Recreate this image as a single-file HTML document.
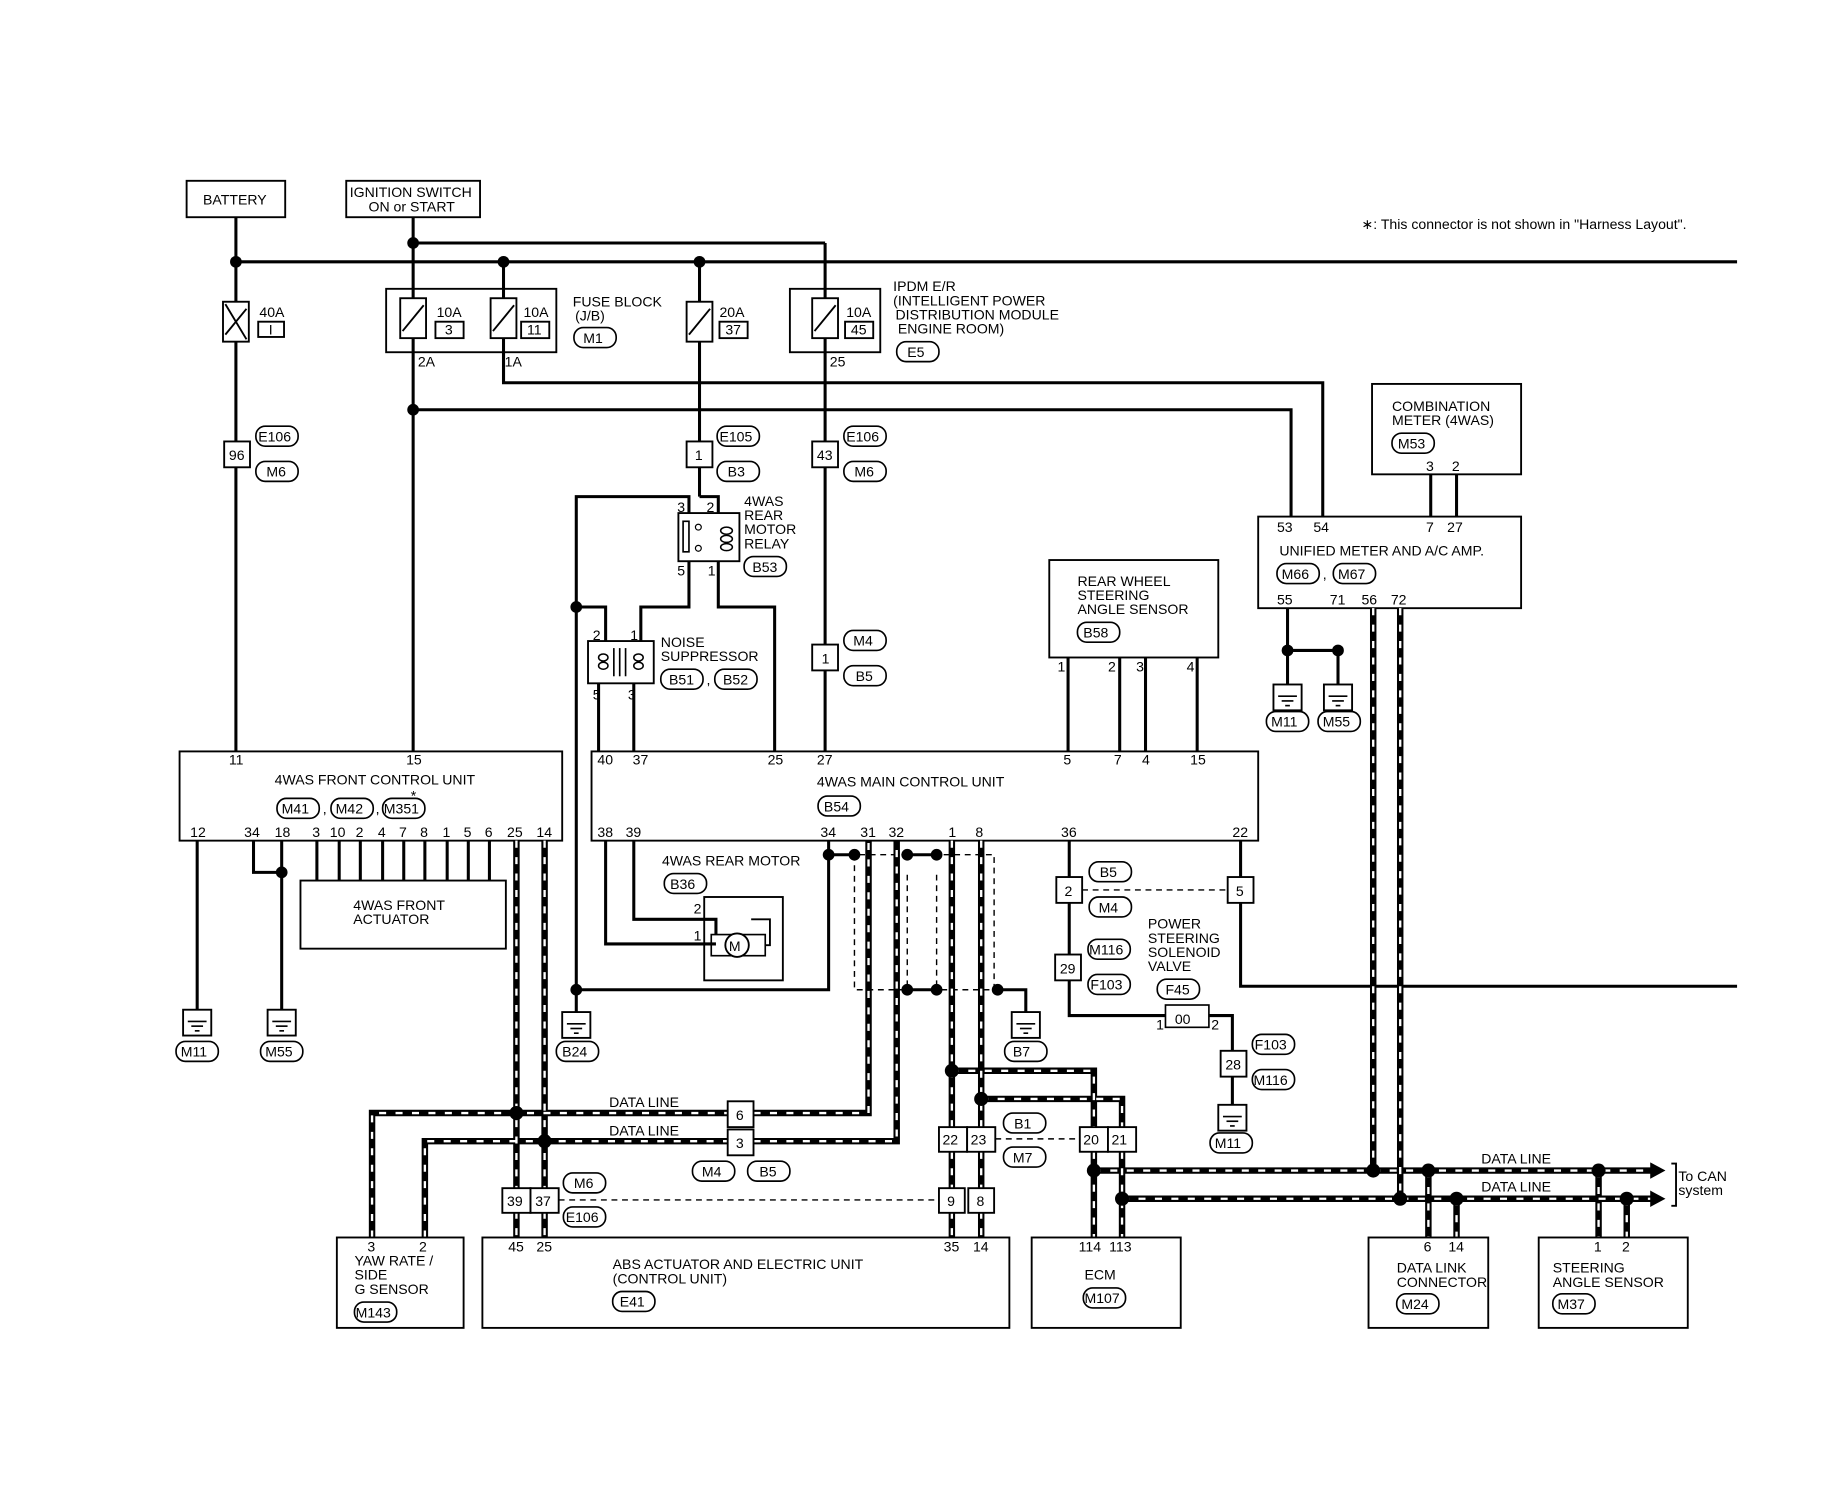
<!DOCTYPE html>
<html><head><meta charset="utf-8"><style>
html,body{margin:0;padding:0;background:#fff}
svg{display:block}
text{font-family:"Liberation Sans",sans-serif;font-size:12px;fill:#000}
.l{stroke:#000;stroke-width:2.6;fill:none}
.b{stroke:#000;stroke-width:1.6;fill:#fff}
.bt{stroke:#000;stroke-width:1.6;fill:none}
.T{stroke:#000;stroke-width:5.5;fill:none}
.W{stroke:#fff;stroke-width:2;fill:none;stroke-dasharray:6 8}
.dd{stroke:#000;stroke-width:1.2;fill:none;stroke-dasharray:5 4}
.o{stroke:#000;stroke-width:1.4;fill:#fff}
</style></head><body>
<svg width="1838" height="1504" viewBox="0 0 1566 1281" preserveAspectRatio="none" xmlns="http://www.w3.org/2000/svg">
<defs>
<g id="gnd"><rect x="-12" y="0" width="24" height="22" class="b"/><line x1="-8" y1="10" x2="8" y2="10" stroke="#000" stroke-width="1.4"/><line x1="-5" y1="14" x2="5" y2="14" stroke="#000" stroke-width="1.4"/><line x1="-2" y1="18" x2="2" y2="18" stroke="#000" stroke-width="1.4"/></g>
<g id="fuse"><rect x="-11" y="0" width="22" height="34" class="b"/><line x1="-9" y1="28" x2="9" y2="6" stroke="#000" stroke-width="1.6"/></g>
</defs>

<rect x="159" y="154" width="84" height="31" class="b"/><text x="173" y="174">BATTERY</text>
<rect x="295" y="154" width="114" height="31" class="b"/><text x="298" y="168">IGNITION SWITCH</text><text x="314" y="180">ON or START</text>
<text x="1160" y="195">∗: This connector is not shown in "Harness Layout".</text>

<line x1="201" y1="223" x2="1480" y2="223" class="l"/>
<line x1="352" y1="207" x2="703" y2="207" class="l"/>
<line x1="201" y1="185" x2="201" y2="640" class="l"/>
<line x1="352" y1="185" x2="352" y2="640" class="l"/>
<line x1="429" y1="223" x2="429" y2="326" class="l"/>
<polyline points="429,300 429,326 1127,326 1127,440" class="l"/>
<polyline points="352,349 1100,349 1100,440" class="l"/>
<line x1="596" y1="223" x2="596" y2="423" class="l"/>
<line x1="703" y1="207" x2="703" y2="640" class="l"/>
<circle cx="201" cy="223" r="5"/><circle cx="352" cy="207" r="5"/><circle cx="429" cy="223" r="5"/><circle cx="596" cy="223" r="5"/><circle cx="352" cy="349" r="5"/>

<use href="#fuse" x="201" y="257"/><line x1="192" y1="259" x2="210" y2="289" stroke="#000" stroke-width="1.6"/>
<text x="221" y="270">40A</text><rect x="220" y="274" width="22" height="13" class="b"/><text x="229" y="285">I</text>
<rect x="329" y="246" width="145" height="54" class="bt"/>
<use href="#fuse" x="352" y="254"/><use href="#fuse" x="429" y="254"/>
<text x="372" y="270">10A</text><rect x="371" y="274" width="24" height="14" class="b"/><text x="379" y="285">3</text>
<text x="446" y="270">10A</text><rect x="444" y="274" width="24" height="14" class="b"/><text x="449" y="285">11</text>
<text x="356" y="312">2A</text><text x="430" y="312">1A</text>
<text x="488" y="261">FUSE BLOCK</text><text x="490" y="273">(J/B)</text><rect x="489" y="279" width="36" height="17" rx="8" class="o"/><text x="497" y="292">M1</text>
<use href="#fuse" x="596" y="257"/>
<text x="613" y="270">20A</text><rect x="613" y="274" width="24" height="14" class="b"/><text x="618" y="285">37</text>
<rect x="673" y="246" width="77" height="54" class="bt"/><use href="#fuse" x="703" y="254"/>
<text x="721" y="270">10A</text><rect x="720" y="274" width="24" height="14" class="b"/><text x="725" y="285">45</text>
<text x="707" y="312">25</text>
<text x="761" y="248">IPDM E/R</text><text x="761" y="260">(INTELLIGENT POWER</text><text x="763" y="272">DISTRIBUTION MODULE</text><text x="765" y="284">ENGINE ROOM)</text>
<rect x="764" y="291" width="36" height="17" rx="8" class="o"/><text x="773" y="304">E5</text>

<rect x="191" y="376" width="22" height="22" class="b"/><text x="195" y="392">96</text>
<rect x="218" y="363" width="36" height="17" rx="8" class="o"/><text x="220" y="376">E106</text>
<rect x="218" y="393" width="36" height="17" rx="8" class="o"/><text x="227" y="406">M6</text>
<rect x="585" y="376" width="22" height="22" class="b"/><text x="592" y="392">1</text>
<rect x="611" y="363" width="36" height="17" rx="8" class="o"/><text x="613" y="376">E105</text>
<rect x="611" y="393" width="36" height="17" rx="8" class="o"/><text x="620" y="406">B3</text>
<rect x="692" y="376" width="22" height="22" class="b"/><text x="696" y="392">43</text>
<rect x="719" y="363" width="36" height="17" rx="8" class="o"/><text x="721" y="376">E106</text>
<rect x="719" y="393" width="36" height="17" rx="8" class="o"/><text x="728" y="406">M6</text>
<rect x="692" y="549" width="22" height="22" class="b"/><text x="700" y="565">1</text>
<rect x="719" y="537" width="36" height="17" rx="8" class="o"/><text x="727" y="550">M4</text>
<rect x="719" y="567" width="36" height="17" rx="8" class="o"/><text x="729" y="580">B5</text>

<polyline points="587,440 587,423 491,423 491,845" class="l"/>
<polyline points="596,423 612,423 612,440" class="l"/>
<rect x="578" y="437" width="52" height="41" class="b"/>
<rect x="582" y="444" width="5" height="26" fill="none" stroke="#000" stroke-width="1.4"/>
<circle cx="595" cy="449" r="2.5" fill="#fff" stroke="#000"/><circle cx="595" cy="467" r="2.5" fill="#fff" stroke="#000"/>
<ellipse cx="619" cy="452" rx="5" ry="3" fill="none" stroke="#000" stroke-width="1.3"/><ellipse cx="619" cy="459" rx="5" ry="3" fill="none" stroke="#000" stroke-width="1.3"/><ellipse cx="619" cy="466" rx="5" ry="3" fill="none" stroke="#000" stroke-width="1.3"/>
<text x="577" y="436" font-size="11">3</text><text x="602" y="436" font-size="11">2</text><text x="577" y="490" font-size="11">5</text><text x="603" y="490" font-size="11">1</text>
<text x="634" y="431">4WAS</text><text x="634" y="443">REAR</text><text x="634" y="455">MOTOR</text><text x="634" y="467">RELAY</text>
<rect x="634" y="474" width="36" height="17" rx="8" class="o"/><text x="641" y="487">B53</text>
<polyline points="587,478 587,517 546,517 546,548" class="l"/>
<polyline points="612,478 612,517 660,517 660,640" class="l"/>
<polyline points="491,517 516,517 516,548" class="l"/>
<circle cx="491" cy="517" r="5"/>
<rect x="501" y="546" width="56" height="36" class="b"/>
<line x1="523" y1="552" x2="523" y2="576" stroke="#000" stroke-width="1.4"/><line x1="528" y1="552" x2="528" y2="576" stroke="#000" stroke-width="1.4"/><line x1="533" y1="552" x2="533" y2="576" stroke="#000" stroke-width="1.4"/>
<ellipse cx="514" cy="560" rx="4" ry="3" fill="none" stroke="#000" stroke-width="1.3"/><ellipse cx="514" cy="567" rx="4" ry="3" fill="none" stroke="#000" stroke-width="1.3"/>
<ellipse cx="544" cy="560" rx="4" ry="3" fill="none" stroke="#000" stroke-width="1.3"/><ellipse cx="544" cy="567" rx="4" ry="3" fill="none" stroke="#000" stroke-width="1.3"/>
<text x="505" y="545">2</text><text x="537" y="545">1</text><text x="505" y="596">5</text><text x="535" y="596">3</text>
<text x="563" y="551">NOISE</text><text x="563" y="563">SUPPRESSOR</text>
<rect x="563" y="570" width="36" height="17" rx="8" class="o"/><text x="570" y="583">B51</text><text x="602" y="583">,</text>
<rect x="609" y="570" width="36" height="17" rx="8" class="o"/><text x="616" y="583">B52</text>
<line x1="510" y1="582" x2="510" y2="640" class="l"/><line x1="540" y1="582" x2="540" y2="640" class="l"/>

<rect x="1169" y="327" width="127" height="77" class="bt"/>
<text x="1186" y="350">COMBINATION</text><text x="1186" y="362">METER (4WAS)</text>
<rect x="1186" y="369" width="36" height="17" rx="8" class="o"/><text x="1191" y="382">M53</text>
<text x="1215" y="401">3</text><text x="1237" y="401">2</text>
<line x1="1219" y1="404" x2="1219" y2="440" class="l"/><line x1="1241" y1="404" x2="1241" y2="440" class="l"/>
<rect x="1072" y="440" width="224" height="78" class="bt"/>
<text x="1088" y="453">53</text><text x="1119" y="453">54</text><text x="1215" y="453">7</text><text x="1233" y="453">27</text>
<text x="1090" y="473">UNIFIED METER AND A/C AMP.</text>
<rect x="1088" y="480" width="36" height="17" rx="8" class="o"/><text x="1092" y="493">M66</text><text x="1127" y="493">,</text>
<rect x="1136" y="480" width="36" height="17" rx="8" class="o"/><text x="1140" y="493">M67</text>
<text x="1088" y="515">55</text><text x="1133" y="515">71</text><text x="1160" y="515">56</text><text x="1185" y="515">72</text>
<polyline points="1097,518 1097,585" class="l"/><polyline points="1097,554 1140,554 1140,585" class="l"/><circle cx="1097" cy="554" r="5"/><circle cx="1140" cy="554" r="5"/>
<use href="#gnd" x="1097" y="583"/><use href="#gnd" x="1140" y="583"/>
<rect x="1079" y="606" width="36" height="17" rx="8" class="o"/><text x="1083" y="619">M11</text>
<rect x="1123" y="606" width="36" height="17" rx="8" class="o"/><text x="1127" y="619">M55</text>

<rect x="894" y="477" width="144" height="83" class="bt"/>
<text x="918" y="499">REAR WHEEL</text><text x="918" y="511">STEERING</text><text x="918" y="523">ANGLE SENSOR</text>
<rect x="918" y="530" width="36" height="17" rx="8" class="o"/><text x="923" y="543">B58</text>
<text x="901" y="572">1</text><text x="944" y="572">2</text><text x="968" y="572">3</text><text x="1011" y="572">4</text>
<line x1="910" y1="560" x2="910" y2="640" class="l"/><line x1="954" y1="560" x2="954" y2="640" class="l"/><line x1="976" y1="560" x2="976" y2="640" class="l"/><line x1="1020" y1="560" x2="1020" y2="640" class="l"/>

<rect x="153" y="640" width="326" height="76" class="bt"/>
<text x="195" y="651">11</text><text x="346" y="651">15</text>
<text x="234" y="668">4WAS FRONT CONTROL UNIT</text>
<rect x="236" y="680" width="36" height="17" rx="8" class="o"/><text x="240" y="693">M41</text><text x="275" y="693">,</text>
<rect x="282" y="680" width="36" height="17" rx="8" class="o"/><text x="286" y="693">M42</text><text x="320" y="693">,</text>
<rect x="326" y="680" width="36" height="17" rx="8" class="o"/><text x="327" y="693">M351</text><text x="350" y="682" font-size="16">*</text>
<text x="162" y="713">12</text><text x="208" y="713">34</text><text x="234" y="713">18</text><text x="266" y="713">3</text><text x="281" y="713">10</text><text x="303" y="713">2</text><text x="322" y="713">4</text><text x="340" y="713">7</text><text x="358" y="713">8</text><text x="377" y="713">1</text><text x="395" y="713">5</text><text x="413" y="713">6</text><text x="432" y="713">25</text><text x="457" y="713">14</text>
<line x1="168" y1="716" x2="168" y2="862" class="l"/><use href="#gnd" x="168" y="860"/>
<rect x="150" y="887" width="36" height="17" rx="8" class="o"/><text x="154" y="900">M11</text>
<polyline points="216,716 216,743 240,743" class="l"/><line x1="240" y1="716" x2="240" y2="862" class="l"/><circle cx="240" cy="743" r="5"/><use href="#gnd" x="240" y="860"/>
<rect x="222" y="887" width="36" height="17" rx="8" class="o"/><text x="226" y="900">M55</text>
<g class="l"><line x1="270" y1="716" x2="270" y2="750"/><line x1="289" y1="716" x2="289" y2="750"/><line x1="307" y1="716" x2="307" y2="750"/><line x1="326" y1="716" x2="326" y2="750"/><line x1="344" y1="716" x2="344" y2="750"/><line x1="362" y1="716" x2="362" y2="750"/><line x1="381" y1="716" x2="381" y2="750"/><line x1="399" y1="716" x2="399" y2="750"/><line x1="417" y1="716" x2="417" y2="750"/></g>
<rect x="256" y="750" width="175" height="58" class="bt"/>
<text x="301" y="775">4WAS FRONT</text><text x="301" y="787">ACTUATOR</text>

<rect x="504" y="640" width="568" height="76" class="bt"/>
<text x="509" y="651">40</text><text x="539" y="651">37</text><text x="654" y="651">25</text><text x="696" y="651">27</text><text x="906" y="651">5</text><text x="949" y="651">7</text><text x="973" y="651">4</text><text x="1014" y="651">15</text>
<text x="696" y="670">4WAS MAIN CONTROL UNIT</text>
<rect x="697" y="678" width="36" height="17" rx="8" class="o"/><text x="702" y="691">B54</text>
<text x="509" y="713">38</text><text x="533" y="713">39</text><text x="699" y="713">34</text><text x="733" y="713">31</text><text x="757" y="713">32</text><text x="808" y="713">1</text><text x="831" y="713">8</text><text x="904" y="713">36</text><text x="1050" y="713">22</text>

<text x="564" y="737">4WAS REAR MOTOR</text>
<rect x="566" y="744" width="36" height="17" rx="8" class="o"/><text x="571" y="757">B36</text>
<rect x="600" y="764" width="67" height="71" class="bt"/>
<polyline points="540,716 540,783 610,783 610,796" class="l"/>
<polyline points="516,716 516,804 610,804" class="l"/>
<text x="591" y="778">2</text><text x="591" y="801">1</text>
<rect x="606" y="796" width="46" height="18" fill="none" stroke="#000" stroke-width="1.4"/>
<circle cx="628" cy="805" r="10" class="b"/><text x="621" y="810">M</text>
<polyline points="652,805 656,805 656,783 640,783" class="bt"/>
<polyline points="706,716 706,843 491,843" class="l"/><circle cx="491" cy="843" r="5"/>
<use href="#gnd" x="491" y="862"/><line x1="491" y1="843" x2="491" y2="862" class="l"/>
<rect x="474" y="887" width="36" height="17" rx="8" class="o"/><text x="479" y="900">B24</text>
<polyline points="706,728 728,728" class="l"/><circle cx="706" cy="728" r="5"/><circle cx="728" cy="728" r="5"/>
<polyline points="728,728 728,843 847,843 847,728 728,728" class="dd"/>
<line x1="773" y1="745" x2="773" y2="843" class="dd"/><line x1="798" y1="745" x2="798" y2="843" class="dd"/>
<line x1="773" y1="728" x2="798" y2="728" class="l"/><circle cx="773" cy="728" r="5"/><circle cx="798" cy="728" r="5"/>
<line x1="773" y1="843" x2="798" y2="843" class="l"/><circle cx="773" cy="843" r="5"/><circle cx="798" cy="843" r="5"/>
<polyline points="847,843 874,843 874,862" class="l"/><circle cx="850" cy="843" r="5"/>
<use href="#gnd" x="874" y="862"/>
<rect x="856" y="887" width="36" height="17" rx="8" class="o"/><text x="863" y="900">B7</text>

<polyline points="911,716 911,865 993,865" class="l"/>
<rect x="900" y="747" width="22" height="22" class="b"/><text x="907" y="763">2</text>
<rect x="928" y="734" width="36" height="17" rx="8" class="o"/><text x="937" y="747">B5</text>
<rect x="928" y="764" width="36" height="17" rx="8" class="o"/><text x="936" y="777">M4</text>
<line x1="922" y1="758" x2="1046" y2="758" class="dd"/>
<rect x="899" y="813" width="22" height="22" class="b"/><text x="903" y="829">29</text>
<rect x="927" y="800" width="36" height="17" rx="8" class="o"/><text x="928" y="813">M116</text>
<rect x="927" y="830" width="36" height="17" rx="8" class="o"/><text x="929" y="843">F103</text>
<text x="978" y="791">POWER</text><text x="978" y="803">STEERING</text><text x="978" y="815">SOLENOID</text><text x="978" y="827">VALVE</text>
<rect x="986" y="834" width="36" height="17" rx="8" class="o"/><text x="993" y="847">F45</text>
<rect x="993" y="856" width="37" height="19" fill="#fff" stroke="#000" stroke-width="1.4"/>
<text x="1001" y="872">00</text><text x="985" y="877">1</text><text x="1032" y="877">2</text>
<polyline points="1030,865 1050,865 1050,942" class="l"/>
<rect x="1040" y="895" width="22" height="22" class="b"/><text x="1044" y="911">28</text>
<rect x="1067" y="881" width="36" height="17" rx="8" class="o"/><text x="1069" y="894">F103</text>
<rect x="1067" y="911" width="36" height="17" rx="8" class="o"/><text x="1068" y="924">M116</text>
<use href="#gnd" x="1050" y="941"/>
<rect x="1031" y="965" width="36" height="17" rx="8" class="o"/><text x="1035" y="978">M11</text>
<polyline points="1057,716 1057,840 1480,840" class="l"/>
<rect x="1046" y="747" width="22" height="22" class="b"/><text x="1053" y="763">5</text>

<g class="T">
<polyline points="440,716 440,1012"/><polyline points="464,716 464,1012"/>
<line x1="440" y1="1032" x2="440" y2="1054"/><line x1="464" y1="1032" x2="464" y2="1054"/>
<polyline points="317,1054 317,948 620,948"/><polyline points="642,948 740,948 740,716"/>
<polyline points="362,1054 362,972 620,972"/><polyline points="642,972 764,972 764,716"/>
<polyline points="811,716 811,960"/><polyline points="836,716 836,960"/>
<line x1="811" y1="981" x2="811" y2="1012"/><line x1="836" y1="981" x2="836" y2="1012"/>
<line x1="811" y1="1032" x2="811" y2="1054"/><line x1="836" y1="1032" x2="836" y2="1054"/>
<polyline points="811,912 932,912 932,960"/><polyline points="836,936 956,936 956,960"/>
<line x1="932" y1="981" x2="932" y2="1054"/><line x1="956" y1="981" x2="956" y2="1054"/>
<polyline points="1170,518 1170,997"/><polyline points="1193,518 1193,1021"/>
<line x1="932" y1="997" x2="1408" y2="997"/><line x1="956" y1="1021" x2="1408" y2="1021"/>
<line x1="1217" y1="997" x2="1217" y2="1054"/><line x1="1241" y1="1021" x2="1241" y2="1054"/>
<line x1="1362" y1="997" x2="1362" y2="1054"/><line x1="1386" y1="1021" x2="1386" y2="1054"/>
</g>
<g class="W">
<polyline points="440,716 440,1012"/><polyline points="464,716 464,1012"/>
<line x1="440" y1="1032" x2="440" y2="1054"/><line x1="464" y1="1032" x2="464" y2="1054"/>
<polyline points="317,1054 317,948 620,948"/><polyline points="642,948 740,948 740,716"/>
<polyline points="362,1054 362,972 620,972"/><polyline points="642,972 764,972 764,716"/>
<polyline points="811,716 811,960"/><polyline points="836,716 836,960"/>
<line x1="811" y1="981" x2="811" y2="1012"/><line x1="836" y1="981" x2="836" y2="1012"/>
<line x1="811" y1="1032" x2="811" y2="1054"/><line x1="836" y1="1032" x2="836" y2="1054"/>
<polyline points="811,912 932,912 932,960"/><polyline points="836,936 956,936 956,960"/>
<line x1="932" y1="981" x2="932" y2="1054"/><line x1="956" y1="981" x2="956" y2="1054"/>
<polyline points="1170,518 1170,997"/><polyline points="1193,518 1193,1021"/>
<line x1="932" y1="997" x2="1408" y2="997"/><line x1="956" y1="1021" x2="1408" y2="1021"/>
<line x1="1217" y1="997" x2="1217" y2="1054"/><line x1="1241" y1="1021" x2="1241" y2="1054"/>
<line x1="1362" y1="997" x2="1362" y2="1054"/><line x1="1386" y1="1021" x2="1386" y2="1054"/>
</g>
<circle cx="440" cy="948" r="6"/><circle cx="464" cy="972" r="6"/><circle cx="811" cy="912" r="6"/><circle cx="836" cy="936" r="6"/>
<circle cx="932" cy="997" r="6"/><circle cx="956" cy="1021" r="6"/><circle cx="1170" cy="997" r="6"/><circle cx="1193" cy="1021" r="6"/>
<circle cx="1217" cy="997" r="6"/><circle cx="1241" cy="1021" r="6"/><circle cx="1362" cy="997" r="6"/><circle cx="1386" cy="1021" r="6"/>
<polygon points="1406,990 1419,997 1406,1004"/><polygon points="1406,1014 1419,1021 1406,1028"/>
<polyline points="1424,991 1428,991 1428,1027 1424,1027" class="bt" stroke-width="1"/>
<text x="1430" y="1006">To CAN</text><text x="1430" y="1018">system</text>
<text x="519" y="943">DATA LINE</text><text x="519" y="967">DATA LINE</text>
<text x="1262" y="991">DATA LINE</text><text x="1262" y="1015">DATA LINE</text>

<rect x="620" y="938" width="22" height="22" class="b"/><text x="627" y="954">6</text>
<rect x="620" y="962" width="22" height="22" class="b"/><text x="627" y="978">3</text>
<rect x="590" y="989" width="36" height="17" rx="8" class="o"/><text x="598" y="1002">M4</text>
<rect x="637" y="989" width="36" height="17" rx="8" class="o"/><text x="647" y="1002">B5</text>
<rect x="428" y="1012" width="24" height="21" class="b"/><text x="432" y="1027">39</text>
<rect x="452" y="1012" width="24" height="21" class="b"/><text x="456" y="1027">37</text>
<rect x="480" y="999" width="36" height="17" rx="8" class="o"/><text x="489" y="1012">M6</text>
<rect x="480" y="1028" width="36" height="17" rx="8" class="o"/><text x="482" y="1041">E106</text>
<line x1="476" y1="1022" x2="800" y2="1022" class="dd"/>
<rect x="800" y="1012" width="22" height="21" class="b"/><text x="807" y="1027">9</text>
<rect x="825" y="1012" width="22" height="21" class="b"/><text x="832" y="1027">8</text>
<rect x="800" y="960" width="24" height="21" class="b"/><text x="803" y="975">22</text>
<rect x="824" y="960" width="24" height="21" class="b"/><text x="827" y="975">23</text>
<rect x="855" y="948" width="36" height="17" rx="8" class="o"/><text x="864" y="961">B1</text>
<rect x="855" y="977" width="36" height="17" rx="8" class="o"/><text x="863" y="990">M7</text>
<line x1="848" y1="970" x2="920" y2="970" class="dd"/>
<rect x="920" y="960" width="24" height="21" class="b"/><text x="923" y="975">20</text>
<rect x="944" y="960" width="24" height="21" class="b"/><text x="947" y="975">21</text>

<rect x="287" y="1054" width="108" height="77" class="bt"/>
<text x="313" y="1066">3</text><text x="357" y="1066">2</text>
<text x="302" y="1078">YAW RATE /</text><text x="302" y="1090">SIDE</text><text x="302" y="1102">G SENSOR</text>
<rect x="302" y="1109" width="36" height="17" rx="8" class="o"/><text x="303" y="1122">M143</text>
<rect x="411" y="1054" width="449" height="77" class="bt"/>
<text x="433" y="1066">45</text><text x="457" y="1066">25</text><text x="804" y="1066">35</text><text x="829" y="1066">14</text>
<text x="522" y="1081">ABS ACTUATOR AND ELECTRIC UNIT</text><text x="522" y="1093">(CONTROL UNIT)</text>
<rect x="522" y="1100" width="36" height="17" rx="8" class="o"/><text x="528" y="1113">E41</text>
<rect x="879" y="1054" width="127" height="77" class="bt"/>
<text x="919" y="1066">114</text><text x="945" y="1066">113</text>
<text x="924" y="1090">ECM</text>
<rect x="923" y="1097" width="36" height="17" rx="8" class="o"/><text x="924" y="1110">M107</text>
<rect x="1166" y="1054" width="102" height="77" class="bt"/>
<text x="1213" y="1066">6</text><text x="1234" y="1066">14</text>
<text x="1190" y="1084">DATA LINK</text><text x="1190" y="1096">CONNECTOR</text>
<rect x="1190" y="1102" width="36" height="17" rx="8" class="o"/><text x="1194" y="1115">M24</text>
<rect x="1311" y="1054" width="127" height="77" class="bt"/>
<text x="1358" y="1066">1</text><text x="1382" y="1066">2</text>
<text x="1323" y="1084">STEERING</text><text x="1323" y="1096">ANGLE SENSOR</text>
<rect x="1323" y="1102" width="36" height="17" rx="8" class="o"/><text x="1327" y="1115">M37</text>
</svg>
</body></html>
